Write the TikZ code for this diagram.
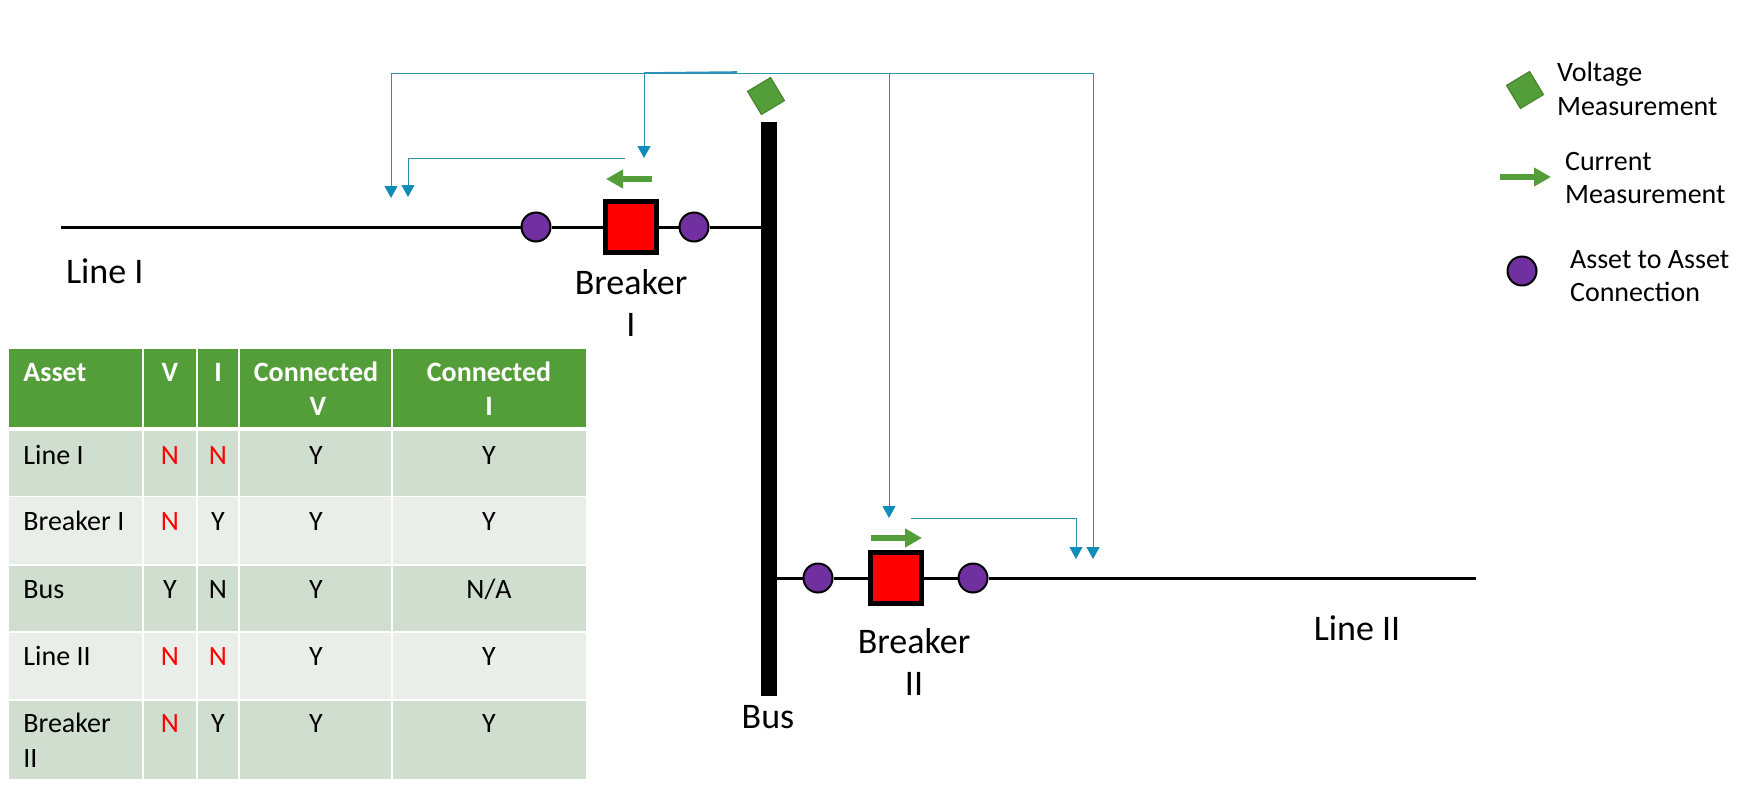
\documentclass[tikz,border=0pt]{standalone}
\usepackage{fontspec}
\usepackage{xcolor}
\usetikzlibrary{arrows.meta, positioning}
\setmainfont{Carlito}
\definecolor{SenseBlue}{HTML}{2A93B4}
\definecolor{TipBlue}{HTML}{0F8DB8}
\definecolor{MeasGreen}{HTML}{549E39}
\definecolor{EdgeGreen}{HTML}{437F2E}
\definecolor{JointPurple}{HTML}{7030A0}
\definecolor{RowDark}{HTML}{D0DECF}
\definecolor{RowLight}{HTML}{E9EFE8}
\newcommand{\no}{\textcolor{red}{N}}

\begin{document}
\begin{tikzpicture}[x=0.5pt, y=-0.5pt, on grid,
        breaker/.style={rectangle, draw=black, fill=red, line width=2.5pt, minimum size=25.5pt, inner sep=0pt},
        joint/.style={circle, draw=black, fill=JointPurple, line width=1pt, minimum size=14.5pt, inner sep=0pt},
        vmeter/.style={rectangle, draw=EdgeGreen, fill=MeasGreen, line width=0.5pt, rotate=31, minimum size=13.5pt, inner sep=0pt},
        busbar/.style={rectangle, fill=black, minimum width=8pt, minimum height=287pt, inner sep=0pt},
        wire/.style={line width=1.5pt, black},
        imeter/.style={line width=3pt, MeasGreen, -{Triangle[length=8.5pt, width=9pt]}},
        sense/.style={line width=0.5pt, SenseBlue},
        tip/.style={-{Triangle[length=6pt, width=6.5pt, color=TipBlue]}},
        big/.style={font=\fontsize{18}{21}\selectfont, align=center},
        legend/.style={font=\fontsize{14}{16.8}\selectfont, align=left, anchor=west},
        cell/.style={font=\fontsize{14}{17}\selectfont, text height=9.5pt, text depth=2.5pt, inner sep=0pt},
        head/.style={cell, font=\fontsize{14}{17}\selectfont\bfseries, white, align=center}]

        \useasboundingbox (0,0) rectangle (1743,787);

        % bus and the two feeders
        \node[busbar] (bus) at (769,409) {};
        \node[vmeter] (vbus) at (766,96) {};

        \coordinate (lineI) at (61,227);
        \node[joint] (jointIa) at (536,227) {};
        \node[breaker, right=47.5pt of jointIa] (brkI) {};
        \node[joint, right=31.5pt of brkI] (jointIb) {};

        \coordinate (lineII) at (1476,578);
        \node[joint] (jointIIa) at (818,578) {};
        \node[breaker, right=39pt of jointIIa] (brkII) {};
        \node[joint, right=38.5pt of brkII] (jointIIb) {};

        \draw[wire] (lineI) -- (jointIa) -- (brkI) -- (jointIb) -- (jointIb -| bus.west);
        \draw[wire] (jointIIa -| bus.east) -- (jointIIa) -- (brkII) -- (jointIIb) -- (lineII);

        \node[big, below=38pt of brkI] (brkIlabel) {Breaker\\I};
        \node[big, below=42pt of brkII, xshift=9pt] (brkIIlabel) {Breaker\\II};
        \node[big, anchor=west] (lineIlabel) at (59,271) {Line I};
        \node[big] (lineIIlabel) at (1357,628) {Line II};
        \node[big] (buslabel) at (768,717) {Bus};

        % current arrows above the breakers
        \coordinate (iIa) at (652,179);
        \coordinate (iIb) at (606,179);
        \coordinate (iIIa) at (871,538);
        \coordinate (iIIb) at (922,538);
        \draw[imeter] (iIa) -- (iIb);
        \draw[imeter] (iIIa) -- (iIIb);

        % measurement wiring
        \coordinate (top) at (644,73);
        \coordinate (tipA) at (391,198);
        \coordinate (tipB) at (408,197);
        \coordinate (tipC) at (644,158);
        \coordinate (tipD) at (889,518);
        \coordinate (tipE) at (1076,559);
        \coordinate (tipF) at (1093,559);
        \coordinate (startB) at (625,158);
        \coordinate (startE) at (911,518);

        \draw[sense] (tipA |- top) -- (tipF |- top);
        \draw[sense, line width=0.8pt] (top) -- ++(93,-1);
        \draw[sense, tip] (tipA |- top) -- (tipA);
        \draw[sense, tip] (top) -- (tipC);
        \draw[sense, tip] (tipD |- top) -- (tipD);
        \draw[sense, tip] (tipF |- top) -- (tipF);
        \draw[sense, tip] (startB) -| (tipB);
        \draw[sense, tip] (startE) -| (tipE);

        % key
        \node[vmeter] (keyV) at (1525,90) {};
        \node[legend] (keyVtext) at (1550,89) {Voltage\\Measurement};
        \coordinate (keyIa) at (1500,177);
        \coordinate (keyIb) at (1551,177);
        \draw[imeter] (keyIa) -- (keyIb);
        \node[legend] (keyItext) at (1558,178) {Current\\Measurement};
        \node[joint] (keyJ) at (1522,271) {};
        \node[legend] (keyJtext) at (1563,276) {Asset to Asset\\Connection};

        % asset table
        \fill[MeasGreen] (9,349) rectangle (586,427);
        \fill[RowDark] (9,431) rectangle (586,496);
        \fill[RowLight] (9,497) rectangle (586,564);
        \fill[RowDark] (9,566) rectangle (586,631);
        \fill[RowLight] (9,633) rectangle (586,699);
        \fill[RowDark] (9,701) rectangle (586,779);
        \foreach \col in {143,196.5,239,392}
            \draw[white, line width=1pt] (\col,349) -- (\col,779);

        \node[head, anchor=west] (hAsset) at (23,374) {Asset};
        \node[head] (hV) at (170,374) {V};
        \node[head] (hI) at (218,374) {I};
        \node[head] (hCV) at (316,374) {Connected};
        \node[head] (hCI) at (489,374) {Connected};
        \node[head] (hCVb) at (318,408) {V};
        \node[head] (hCIb) at (489,408) {I};

        \foreach \id/\yy/\name/\vv/\ii/\cv/\ci in {
                a/457/Line I/\no/\no/Y/Y,
                b/523/Breaker I/\no/Y/Y/Y,
                c/591/Bus/Y/N/Y/N\slash A,
                d/658/Line II/\no/\no/Y/Y,
                e/725/Breaker/\no/Y/Y/Y} {
                \node[cell, anchor=west] (name\id) at (23,\yy) {\name};
                \node[cell] (v\id) at (170,\yy) {\vv};
                \node[cell] (i\id) at (218,\yy) {\ii};
                \node[cell] (cv\id) at (316,\yy) {\cv};
                \node[cell] (ci\id) at (489,\yy) {\ci};
            }
        \node[cell, anchor=west] (namee2) at (23,760) {II};

    \end{tikzpicture}
\end{document}
